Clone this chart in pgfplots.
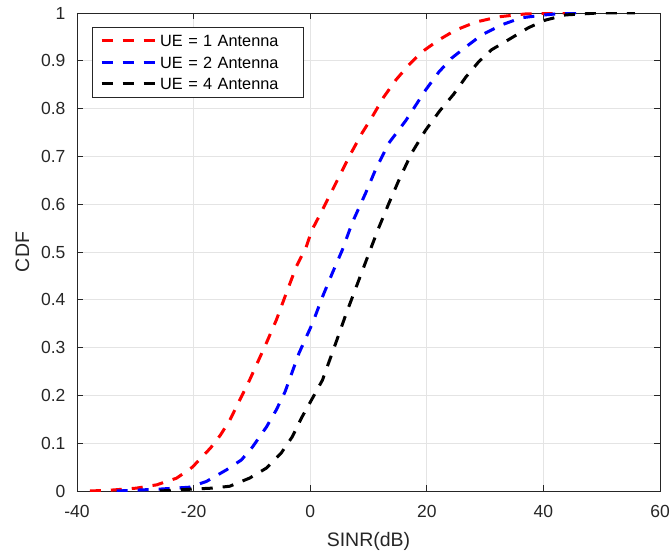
\documentclass[border=0pt]{standalone}
\usepackage{fontspec}
\setmainfont{Liberation Sans}
\usepackage{pgfplots}
\pgfplotsset{compat=1.18}
\definecolor{axgray}{RGB}{38,38,38}
\definecolor{gridgray}{RGB}{228,228,228}
\begin{document}
\fontsize{16}{19}\selectfont
\begin{tikzpicture}
\begin{axis}[name=ax, scale only axis, width=583pt, height=478pt,
  xmin=-40, xmax=60, ymin=0, ymax=1,
  xtick={-40,-20,0,20,40,60}, xticklabels={-40,-20,0,20,40,60},
  ytick={0,0.1,0.2,0.3,0.4,0.5,0.6,0.7,0.8,0.9,1},
  yticklabels={0,0.1,0.2,0.3,0.4,0.5,0.6,0.7,0.8,0.9,1},
  tick align=inside, tick pos=both, major tick length=6pt,
  grid=major, grid style={gridgray, line width=0.8pt},
  axis line style={axgray, line width=0.8pt},
  tick style={axgray, line width=0.8pt},
  ticklabel style={font=\fontsize{17.5}{20}\selectfont, text=axgray},
  xticklabel style={yshift=-9pt},
  yticklabel style={xshift=-6pt},
  xlabel={SINR(dB)}, ylabel={CDF},
  label style={font=\fontsize{19.5}{22}\selectfont, text=axgray},
  ylabel shift=1pt, xlabel shift=4pt,
  legend style={at={(0.0256,0.971)}, anchor=north west, draw=axgray, line width=0.6pt,
    inner xsep=8pt, inner ysep=3pt, row sep=0pt,
    nodes={inner xsep=3pt, inner ysep=5pt, text height=11.5pt, text depth=0pt},
    font=\fontsize{16.3}{19}\selectfont,
    /tikz/every even column/.append style={nodes={text width=132pt}}},
  legend cell align=left,
  legend image code/.code={\draw[#1] (0pt,0pt) -- (54pt,0pt);},
  every axis plot/.append style={line width=3pt, dash pattern=on 11pt off 10pt},
]
\addplot[red] coordinates {(-37.8,0) (-34,0.002) (-29.8,0.006) (-26.3,0.013) (-22.9,0.027) (-20.2,0.05) (-17.1,0.09) (-15.4,0.117) (-13.8,0.148) (-12.1,0.19) (-10.4,0.232) (-7.5,0.31) (-5.8,0.358) (-4.1,0.414) (-2.4,0.469) (-0.7,0.51) (0.3,0.546) (2.1,0.588) (4.4,0.644) (6.7,0.70) (8.9,0.749) (10.6,0.782) (12.6,0.824) (14.7,0.86) (16.9,0.891) (19.1,0.918) (22.1,0.944) (24.9,0.964) (28.4,0.981) (32.3,0.992) (36.9,0.998) (42.6,1) (44,1)};
\addlegendentry{UE = 1 Antenna}
\addplot[blue] coordinates {(-33.2,0) (-25.8,0.004) (-20.7,0.008) (-17.8,0.02) (-14.4,0.044) (-11.8,0.065) (-9.9,0.092) (-7.5,0.134) (-5.8,0.17) (-4.3,0.208) (-1.9,0.289) (0.4,0.351) (2.1,0.406) (3.8,0.456) (5.5,0.504) (7.2,0.561) (9.5,0.623) (11.2,0.672) (13.5,0.728) (16.4,0.775) (18,0.805) (19.8,0.839) (22.1,0.877) (24.3,0.906) (26.7,0.929) (29.4,0.954) (32.8,0.975) (36.2,0.99) (40.3,0.996) (43.8,1) (46,1)};
\addlegendentry{UE = 2 Antenna}
\addplot[black] coordinates {(-25.8,0) (-20.2,0.004) (-16.8,0.006) (-13.8,0.01) (-10.4,0.027) (-7.5,0.048) (-5,0.079) (-3.1,0.113) (-1.4,0.155) (0.2,0.19) (2.1,0.232) (4.4,0.31) (6.2,0.372) (7.9,0.427) (10.1,0.498) (11.8,0.552) (13.5,0.602) (15.2,0.65) (17.4,0.707) (19.8,0.755) (22.2,0.795) (24.6,0.83) (26.7,0.866) (28.9,0.898) (31.1,0.923) (34,0.944) (37.4,0.969) (40.3,0.985) (43.8,0.996) (49.4,1) (55.7,1)};
\addlegendentry{UE = 4 Antenna}
\end{axis}
\pgfresetboundingbox
\path ([xshift=-77pt,yshift=-59pt]ax.south west) rectangle ([xshift=10pt,yshift=13pt]ax.north east);
\end{tikzpicture}
\end{document}
